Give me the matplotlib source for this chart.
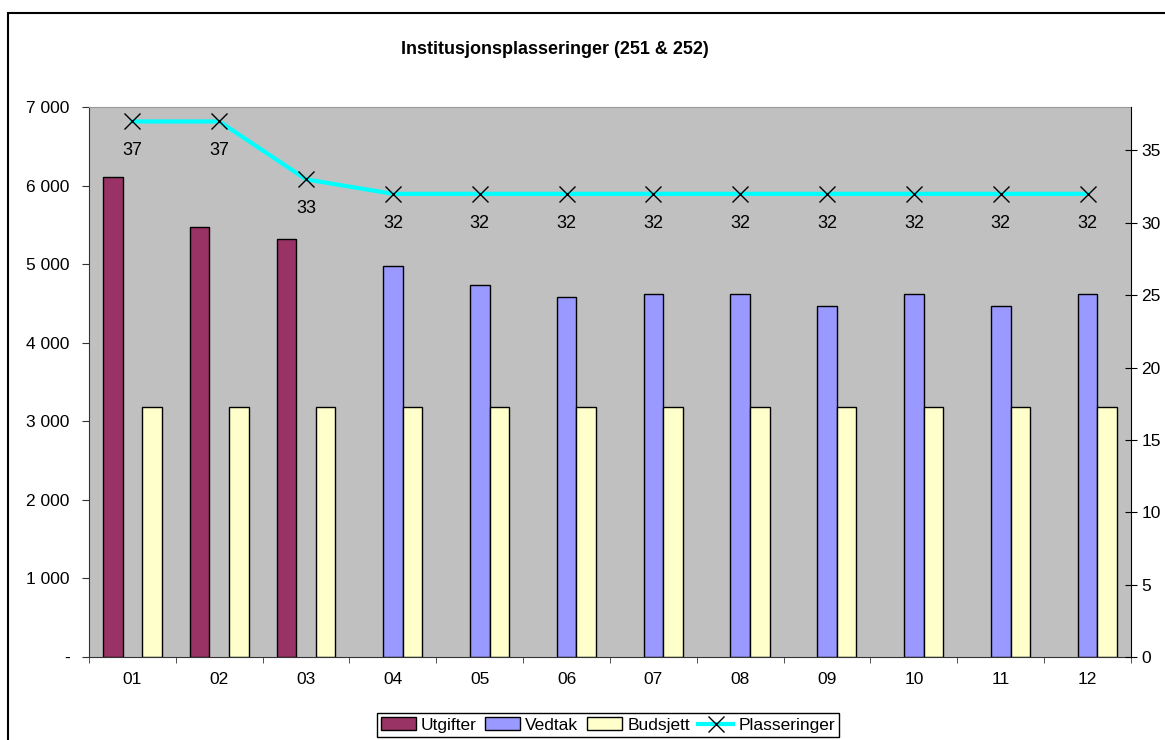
import numpy as np
import matplotlib
matplotlib.use('Agg')
import matplotlib.pyplot as plt
from matplotlib.patches import Rectangle
from matplotlib.ticker import FuncFormatter

months = ['01', '02', '03', '04', '05', '06', '07', '08', '09', '10', '11', '12']
utgifter = [6110, 5470, 5320, None, None, None, None, None, None, None, None, None]
vedtak = [None, None, None, 4975, 4730, 4580, 4615, 4615, 4465, 4615, 4465, 4615]
budsjett = [3180] * 12
plasseringer = [37, 37, 33, 32, 32, 32, 32, 32, 32, 32, 32, 32]

plt.rcParams['font.family'] = ['Liberation Sans', 'DejaVu Sans']

fig = plt.figure(figsize=(11.65, 7.40), dpi=100)
ax = fig.add_axes([89/1165, 1 - 657/740, (1131-89)/1165, (657-107)/740])
ax.set_facecolor('#C0C0C0')

x = np.arange(len(months))
w = 0.225

def bars(vals, offset, color, label):
    xs = [xi + offset for xi, v in zip(x, vals) if v is not None]
    hs = [v for v in vals if v is not None]
    return ax.bar(xs, hs, w, color=color, edgecolor='black', linewidth=1.0, label=label, zorder=2)

b1 = bars(utgifter, -w, '#993366', 'Utgifter')
b2 = bars(vedtak, 0, '#9999FF', 'Vedtak')
b3 = bars(budsjett, w, '#FFFFCC', 'Budsjett')

ax.set_xlim(-0.5, len(months) - 0.5)
ax.set_ylim(0, 7000)
ax.set_yticks(range(0, 7001, 1000))
ax.yaxis.set_major_formatter(FuncFormatter(lambda v, p: '-' if v == 0 else '{:,.0f}'.format(v).replace(',', ' ')))
ax.set_xticks(x)
ax.set_xticklabels(months)
ax.set_xticks(np.arange(-0.5, len(months), 1), minor=True)
ax.tick_params(axis='x', which='major', length=0, pad=11, labelsize=12.5)
ax.tick_params(axis='x', which='minor', length=4, direction='out', color='#333333')
ax.tick_params(axis='y', length=5, direction='out', labelsize=12.5, pad=9, color='#333333')
ax.spines['top'].set_color('#999999')
ax.spines['left'].set_color('#333333')
ax.spines['bottom'].set_color('#333333')
ax.spines['right'].set_visible(False)

ax2 = ax.twinx()
ln, = ax2.plot(x, plasseringer, color='#00FFFF', linewidth=3, marker='x', markersize=12,
               markeredgecolor='black', markeredgewidth=1, label='Plasseringer', zorder=3)
for xi, v in zip(x, plasseringer):
    ax2.annotate(str(v), (xi, v), xytext=(0, -21), textcoords='offset points',
                 ha='center', va='center', fontsize=13)
ax2.set_ylim(0, 38)
ax2.set_yticks(range(0, 36, 5))
ax2.tick_params(axis='y', length=9, direction='inout', labelsize=12.5, pad=3)
for s in ['top', 'left', 'bottom']:
    ax2.spines[s].set_visible(False)
ax2.spines['right'].set_color('black')

fig.text(555/1165, 1 - 49/740, 'Institusjonsplasseringer (251 & 252)', ha='center', va='center',
         fontsize=13, fontweight='bold')

fig.legend([b1, b2, b3, ln], ['Utgifter', 'Vedtak', 'Budsjett', 'Plasseringer'],
           loc='center', bbox_to_anchor=(608/1165, 1 - 725/740), ncol=4, frameon=True,
           fancybox=False, edgecolor='black', fontsize=12.5, handlelength=2.0,
           handletextpad=0.3, columnspacing=0.5, borderpad=0.25, framealpha=1)

# outer chart border (right and bottom edges fall outside the image)
fig.patches.append(Rectangle((8/1165, -0.05), 1.05, 1.05 - 13/740, transform=fig.transFigure,
                             fill=False, edgecolor='black', linewidth=1.5, figure=fig))

fig.savefig('out.png', dpi=100)
